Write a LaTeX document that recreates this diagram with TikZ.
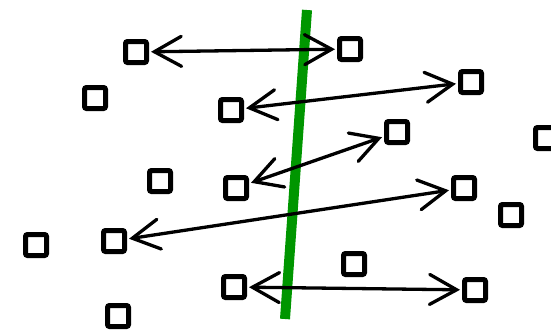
\documentclass[tikz,border=0pt]{standalone}
\definecolor{wallgreen}{RGB}{0, 150, 0}
\usepackage{tikz}
\usetikzlibrary{arrows.meta}

\begin{document}
\begin{tikzpicture}[x=1pt, y=-1pt,
  site/.style={draw, line width=5pt, rounded corners=2pt, minimum size=21pt, inner sep=0pt, outer sep=4.5pt},
  swap/.style={line width=3.3pt, {Straight Barb[length=27pt, width=30pt, line cap=round]}-{Straight Barb[length=27pt, width=30pt, line cap=round]}}]
  \useasboundingbox (0,0) rectangle (551,335);

  % Divider
  \draw[wallgreen, line width=10pt] (307,10) -- (285,319);

  % Left side
  \node[site] (l1) at (136,52) {};
  \node[site] (l2) at (95,98) {};
  \node[site] (l3) at (231,110) {};
  \node[site] (l4) at (160,181) {};
  \node[site] (l5) at (236,188) {};
  \node[site] (l6) at (36,245) {};
  \node[site] (l7) at (114,241) {};
  \node[site] (l8) at (234,287) {};
  \node[site] (l9) at (118,316) {};

  % Right side
  \node[site] (r1) at (350,49) {};
  \node[site] (r2) at (471,82) {};
  \node[site] (r3) at (397,132) {};
  \node[site] (r4) at (546,138) {};
  \node[site] (r5) at (464,188) {};
  \node[site] (r6) at (511,215) {};
  \node[site] (r7) at (354,264) {};
  \node[site] (r8) at (475,290) {};

  % Exchanges across the divider
  \draw[swap] (l1) -- (r1);
  \draw[swap] (l3) -- (r2);
  \draw[swap] (l5) -- (r3);
  \draw[swap] (l7) -- (r5);
  \draw[swap] (l8) -- (r8);
\end{tikzpicture}
\end{document}
